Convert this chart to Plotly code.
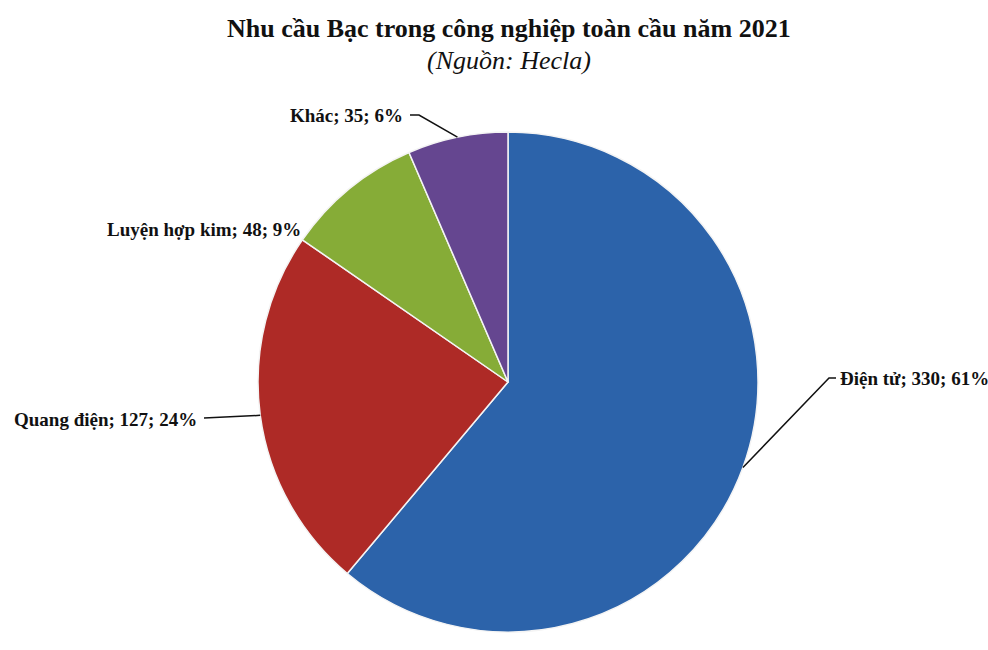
import math
import plotly.graph_objects as go

# ---- data ----
categories = ["Điện tử", "Quang điện", "Luyện hợp kim", "Khác"]
values = [330, 127, 48, 35]
colors = ["#2C63AA", "#AE2A26", "#86AC37", "#654690"]

W, H = 988, 650
# pie placement in pixels (center, radius)
CX, CY, R = 508, 382, 250

def px(x):
    return x / W

def py(y):
    return 1 - y / H

dom_x = [px(CX - R), px(CX + R)]
dom_y = [py(CY + R), py(CY - R)]

total = sum(values)
pcts = [round(v / total * 100) for v in values]

fig = go.Figure(go.Pie(
    labels=categories,
    values=values,
    sort=False,
    direction="clockwise",
    rotation=0,
    marker=dict(colors=colors, line=dict(color="#F4F4F4", width=1.5)),
    textinfo="none",
    domain=dict(x=dom_x, y=dom_y),
    showlegend=False,
))

# label placement (pixels): anchor point, xanchor, leader elbow point(s)
label_pos = {
    "Điện tử": dict(x=838, y=378, xanchor="left", elbow=[(829, 378), (836, 378)]),
    "Quang điện": dict(x=199, y=419, xanchor="right", elbow=[(204, 418)]),
    "Luyện hợp kim": dict(x=303, y=229, xanchor="right", elbow=None),
    "Khác": dict(x=405, y=115, xanchor="right", elbow=[(419, 115), (410, 115)]),
}

annotations = []
shapes = []
cum = 0
for cat, v, p in zip(categories, values, pcts):
    mid = (cum + v / 2) / total * 2 * math.pi
    cum += v
    ex = CX + R * math.sin(mid)
    ey = CY - R * math.cos(mid)
    lp = label_pos[cat]
    annotations.append(dict(
        x=px(lp["x"]), y=py(lp["y"]), xref="paper", yref="paper",
        xanchor=lp["xanchor"], yanchor="middle", showarrow=False,
        text=f"<b>{cat}; {v}; {p}%</b>",
        font=dict(family="Liberation Serif", size=19, color="#111111"),
    ))
    if lp["elbow"]:
        pts = [(ex, ey)] + lp["elbow"]
        path = "M " + " L ".join(f"{px(a)},{py(b)}" for a, b in pts)
        shapes.append(dict(type="path", xref="paper", yref="paper", path=path,
                           line=dict(color="#111111", width=1.5)))

annotations.append(dict(
    x=px(509), y=py(28), xref="paper", yref="paper", showarrow=False,
    xanchor="center", yanchor="middle",
    text="<b>Nhu cầu Bạc trong công nghiệp toàn cầu năm 2021</b>",
    font=dict(family="Liberation Serif", size=26, color="#111111"),
))
annotations.append(dict(
    x=px(509), y=py(60), xref="paper", yref="paper", showarrow=False,
    xanchor="center", yanchor="middle",
    text="<i>(Nguồn: Hecla)</i>",
    font=dict(family="Liberation Serif", size=26, color="#111111"),
))

fig.update_layout(
    width=W, height=H,
    margin=dict(l=0, r=0, t=0, b=0),
    paper_bgcolor="white",
    annotations=annotations,
    shapes=shapes,
)

fig.write_html(
    "out.html",
    config={"displayModeBar": False},
    post_script="document.body.style.margin='0';document.body.style.overflow='hidden';",
)
